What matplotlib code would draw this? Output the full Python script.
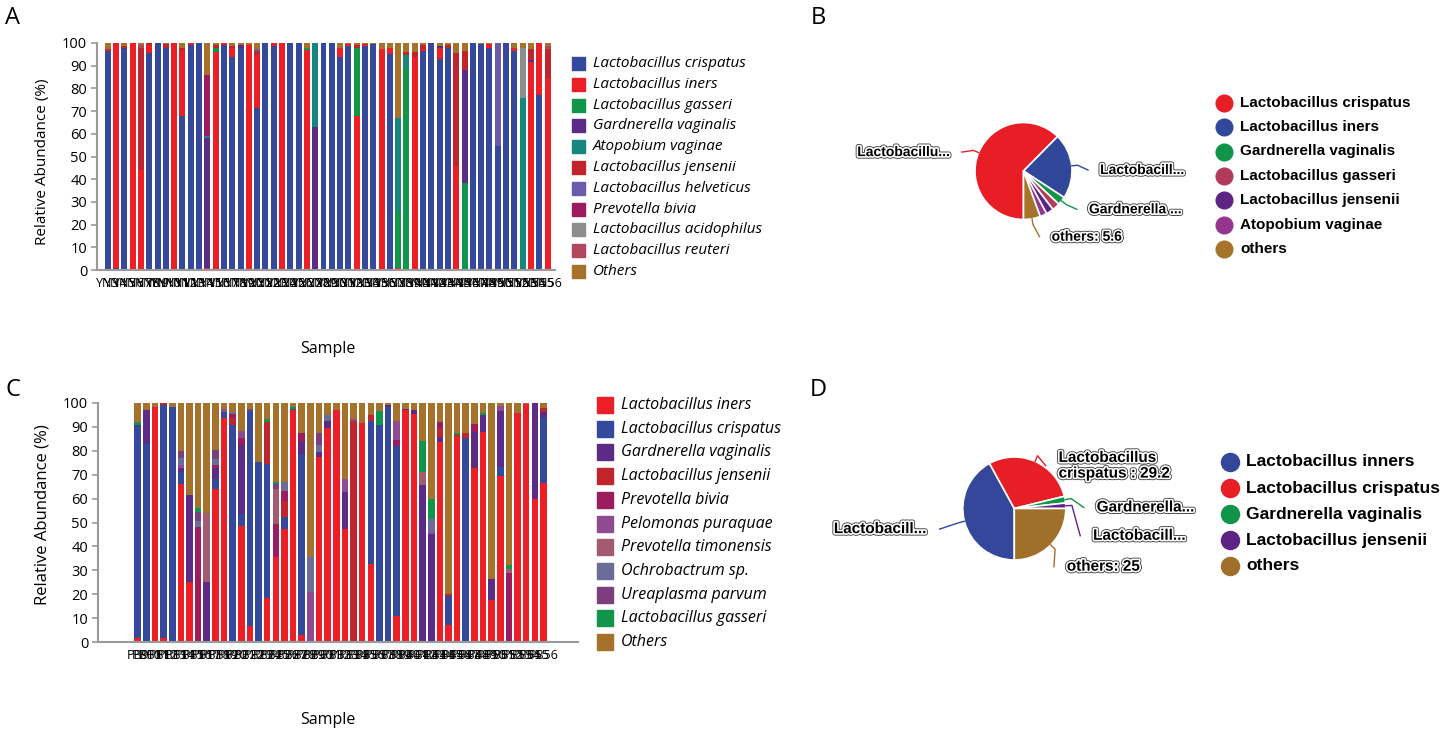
import numpy as np
import matplotlib
matplotlib.use("Agg")
import matplotlib.pyplot as plt
import matplotlib.patheffects as pe
from matplotlib.patches import Rectangle

W, H = 1450, 732

# ---------------- panel A: stacked relative abundance ----------------
species_a = ["Lactobacillus crispatus", "Lactobacillus iners", "Lactobacillus gasseri",
             "Gardnerella vaginalis", "Atopobium vaginae", "Lactobacillus jensenii",
             "Lactobacillus helveticus", "Prevotella bivia", "Lactobacillus acidophilus",
             "Lactobacillus reuteri", "Others"]
colors_a = ["#34499b", "#ed1f26", "#11954a", "#5b2b86", "#16877f", "#c0252d",
            "#6c5bab", "#9c1d5e", "#8d8d8d", "#b3475f", "#a6722b"]
samples_a = ["YN%d" % k for k in range(3, 57)]

cri_a = [96.5, 1, 97.5, 0.5, 0, 95.5, 100, 98, 0, 68,
         99, 100, 0, 0, 99, 94, 98, 0, 71.5, 100,
         98.5, 0, 100, 100, 0, 0, 100, 100, 94, 98.5,
         0, 98.5, 99.5, 0, 95, 0, 0, 0, 96.5, 99.5,
         93, 98, 0, 0, 100, 99.5, 98, 54.5, 100, 96.5,
         0, 0, 77, 0]
ine_a = [0.5, 99, 0, 99.5, 44, 3.5, 0, 0, 100, 28.5,
         1, 0, 1, 96, 1, 4, 0, 99, 23, 0,
         1.5, 100, 0, 0, 97, 0, 0, 0, 4, 1,
         68, 1, 0, 97.4, 3, 1, 0, 94, 1, 0,
         4.7, 0, 46, 0.5, 0, 0, 1.5, 0, 0, 1.5,
         0, 91.5, 23, 84.5]
gas_a = [0, 0, 0, 0, 0, 0, 0, 0, 0, 0,
         0, 0, 0, 2, 0, 0, 0, 0, 0, 0,
         0, 0, 0, 0, 1, 0, 0, 0, 0, 0,
         30, 0, 0, 0, 0, 25, 89.5, 0, 0, 0,
         0, 0, 0, 38, 0, 0, 0, 0, 0, 0,
         0, 0, 0, 0]
gar_a = [0, 0, 0.5, 0, 0, 0, 0, 0, 0, 0,
         0, 0, 57, 0, 0, 0, 1, 0, 0, 0,
         0, 0, 0, 0, 0, 63, 0, 0, 0, 0,
         0, 0, 0, 0, 0, 0, 0, 0, 0, 0.5,
         1, 0, 0, 49.6, 0, 0, 0, 0, 0, 0,
         0, 1, 0, 0]
ato_a = [0, 0, 0, 0, 0, 0, 0, 0, 0, 0,
         0, 0, 1, 0, 0, 0, 0, 0, 0, 0,
         0, 0, 0, 0, 0, 37, 0, 0, 0, 0,
         0, 0, 0, 0, 0, 41, 5, 0, 0, 0,
         0, 0, 0, 0, 0, 0, 0, 0, 0, 0,
         75.8, 0, 0, 0]
jen_a = [0.5, 0, 0.5, 0, 54, 1, 0, 1.5, 0, 1.5,
         0, 0, 0, 1, 0, 0.5, 0, 0, 2, 0,
         0, 0, 0, 0, 0, 0, 0, 0, 0, 0,
         1, 0, 0, 0, 0, 0, 1.5, 2, 1.5, 0,
         0, 1, 49.5, 8.5, 0, 0, 0, 0, 0, 0,
         0, 5, 0, 13]
hel_a = [0, 0, 0, 0, 0, 0, 0, 0, 0, 0,
         0, 0, 0, 0, 0, 0, 0, 0, 1, 0,
         0, 0, 0, 0, 0, 0, 0, 0, 0, 0,
         0, 0, 0, 0, 0, 0, 0, 0, 0, 0,
         0, 0, 0, 0, 0, 0, 0, 45.5, 0, 0,
         0, 0, 0, 0]
biv_a = [0, 0, 0, 0, 0, 0, 0, 0, 0, 0,
         0, 0, 27, 0, 0, 0, 0, 0, 0, 0,
         0, 0, 0, 0, 0, 0, 0, 0, 0, 0,
         0, 0, 0, 0, 0, 0, 0, 0, 0, 0,
         0, 0, 0, 0, 0, 0, 0, 0, 0, 0,
         0, 0, 0, 0]
aci_a = [0, 0, 0, 0, 0, 0, 0, 0, 0, 0,
         0, 0, 0, 0, 0, 0, 0, 0, 0, 0,
         0, 0, 0, 0, 0, 0, 0, 0, 0, 0,
         0, 0, 0, 0, 0, 0, 0, 0, 0, 0,
         0, 0, 0, 0, 0, 0, 0, 0, 0, 0,
         22, 0, 0, 0]
reu_a = [0, 0, 0, 0, 1, 0, 0, 0, 0, 0,
         0, 0, 0, 0, 0, 0, 0, 0, 0, 0,
         0, 0, 0, 0, 0, 0, 0, 0, 0, 0,
         0, 0, 0, 0, 0, 0, 0, 0, 0, 0,
         0, 0, 0, 0, 0, 0, 0, 0, 0, 0,
         0, 0, 0, 1]
oth_a = [2.5, 0, 1.5, 0, 1, 0, 0, 0.5, 0, 2,
         0, 0, 14, 1, 0, 1.5, 1, 1, 2.5, 0,
         0, 0, 0, 0, 2, 0, 0, 0, 2, 0.5,
         1, 0.5, 0.5, 2.6, 2, 33, 4, 4, 1, 0,
         1.3, 1, 4.5, 3.4, 0, 0.5, 0.5, 0, 0, 2,
         2.2, 2.5, 0, 1.5]

# ---------------- panel C: stacked relative abundance ----------------
species_c = ["Lactobacillus iners", "Lactobacillus crispatus", "Gardnerella vaginalis",
             "Lactobacillus jensenii", "Prevotella bivia", "Pelomonas puraquae",
             "Prevotella timonensis", "Ochrobactrum sp.", "Ureaplasma parvum",
             "Lactobacillus gasseri", "Others"]
colors_c = ["#ed1f26", "#34499b", "#5b2b86", "#c0252d", "#9c1d5e", "#8f4b92",
            "#a35b70", "#6b6d98", "#7c3f7d", "#11954a", "#a6722b"]
samples_c = ["PB%d" % k for k in range(9, 57)]

ine_c = [1.5, 0, 98.3, 1.5, 0, 66, 25, 0.5, 0, 64,
         93.7, 0, 48.7, 6.6, 0, 18.5, 35.5, 47.3, 96.9, 3,
         0, 77.5, 89.5, 97.2, 47.4, 0, 91.6, 32.6, 0.3, 0,
         10.8, 97, 95.6, 0, 0.5, 83.5, 7, 86, 0, 72.6,
         88, 17.4, 69.4, 0.5, 96, 99.7, 60, 66.6]
cri_c = [89, 83, 0, 97.5, 98.5, 5, 0, 0, 0, 4,
         2.4, 91, 5, 89.9, 75.4, 56, 0, 5, 0.5, 75.8,
         0.5, 0, 0, 0, 0, 0, 0, 59.7, 90.6, 98.5,
         71, 0, 0, 0, 0, 0, 12.2, 0, 85.5, 0,
         0, 0, 3.9, 0, 0, 0, 0, 27.5]
gar_c = [0.5, 14, 0, 0, 0, 2, 36.5, 0, 25, 5,
         0, 0, 28.8, 0, 0, 0, 0, 0, 0, 5,
         0, 2, 2.8, 0, 15.5, 0, 0, 0, 0, 0.5,
         0, 0.5, 1.4, 65.6, 44.5, 2.2, 0, 0, 0, 15.4,
         7, 8.8, 23.3, 0, 0, 0, 40, 2]
jen_c = [0, 0, 0, 1, 0, 0, 0, 0, 0, 0,
         0, 2.8, 0, 0, 0, 17.6, 0, 6.5, 0, 0,
         0, 0, 0, 0, 0, 92.5, 0, 2.8, 0, 0,
         0, 0, 0, 0, 0, 3.8, 1, 0.5, 2, 0,
         0, 0, 0, 0, 0, 0, 0, 1.8]
biv_c = [0, 0, 0, 0, 0, 0, 0, 47.5, 0, 1,
         0, 1.4, 2.8, 0, 0, 0, 14, 4.5, 0, 3.5,
         0, 0, 0, 0, 0, 0, 0, 0, 0, 0,
         2.8, 0, 0, 0, 0, 2.4, 0, 0, 0, 3.2,
         0, 0, 0, 28.5, 0, 0, 0, 0]
pel_c = [0, 0, 0, 0, 0, 1, 0, 0, 0, 0,
         1.4, 0, 2.8, 0, 0, 0, 0, 0, 0, 0,
         20.5, 0, 0, 0, 5.5, 1, 0, 0, 0, 0,
         7.7, 0, 0, 0, 1, 0, 0, 0, 0, 0,
         0, 0, 2, 0, 0, 0, 0, 0]
tim_c = [0, 0, 0, 0, 0, 0, 0, 0, 29, 0,
         0, 0, 0, 0, 0, 0, 14.5, 0, 0, 0,
         0, 0, 0, 0, 0, 0, 0, 0, 0, 0,
         0, 0, 0, 5.4, 0, 0, 0, 0, 0, 0,
         0, 0, 0, 1.5, 0, 0, 0, 0]
och_c = [0, 0, 0, 0, 0, 3, 0, 2.8, 0, 2.5,
         0, 1, 0, 0, 0, 0, 0, 3.7, 0, 0,
         14.5, 3, 2.8, 0, 0, 0, 0, 0, 0, 0,
         0, 0, 0, 0, 5.5, 0, 0, 0, 0, 0,
         0, 0, 0, 0, 0, 0, 0, 0]
ure_c = [0, 0, 0, 0, 0, 3, 0, 3.5, 0, 4,
         0, 0, 0, 1, 0, 0, 2, 0, 0, 0,
         0, 5, 0, 0, 0, 0, 0, 0, 0, 0,
         0, 0, 0, 0, 0, 0, 0, 0, 0, 0,
         0, 0, 0, 0, 0, 0, 0, 0]
gas_c = [1, 0, 0, 0, 0, 0, 0, 1.8, 0, 0,
         0, 0, 0, 0, 0, 1.4, 0.8, 0, 1, 0,
         0, 0, 0, 0, 0, 0, 0, 0, 5.6, 0,
         0, 0, 0, 13, 8.5, 0, 0, 1, 0, 0,
         0.7, 0, 0, 1.7, 0, 0, 0, 0]
oth_c = [8, 3, 1.7, 0, 1.5, 20, 38.5, 43.9, 46, 19.5,
         2.5, 3.8, 11.9, 2.5, 24.6, 6.5, 33.2, 33, 1.6, 12.7,
         64.5, 12.5, 4.9, 2.8, 31.6, 6.5, 8.4, 4.9, 3.5, 1,
         7.7, 2.5, 3, 16, 40, 8.1, 79.8, 12.5, 12.5, 8.8,
         4.3, 73.8, 1.4, 67.8, 4, 0.3, 0, 2.1]

# ---------------- panel B / D: mean composition pies ----------------
pie_b_names = ["Lactobacillus crispatus", "Lactobacillus iners", "Gardnerella vaginalis",
               "Lactobacillus gasseri", "Lactobacillus jensenii", "Atopobium vaginae", "others"]
pie_b_values = [62.4, 21.8, 2.8, 2.6, 2.5, 2.3, 5.6]
pie_b_colors = ["#e81e27", "#30479a", "#10944a", "#b23b5b", "#5d2486", "#94368f", "#a6732a"]
pie_b_labels = ["Lactobacillu...", "Lactobacill...", "Gardnerella ...", None, None, None, "others: 5.6"]

pie_d_names = ["Lactobacillus inners", "Lactobacillus crispatus", "Gardnerella vaginalis",
               "Lactobacillus jensenii", "others"]
pie_d_values = [42.0, 29.2, 2.1, 1.7, 25.0]
pie_d_colors = ["#34479a", "#e81e27", "#10944a", "#5d2486", "#a06f2a"]
pie_d_labels = ["Lactobacill...", "Lactobacillus\ncrispatus : 29.2", "Gardnerella...",
                "Lactobacill...", "others: 25"]

SANS = ["Open Sans", "DejaVu Sans"]
BOLD = ["Liberation Sans", "DejaVu Sans"]

fig = plt.figure(figsize=(W / 100, H / 100), dpi=100)

# overlay axes in pixel coordinates for legends and panel letters
over = fig.add_axes([0, 0, 1, 1], zorder=-1)
over.set_xlim(0, W)
over.set_ylim(H, 0)
over.axis("off")


def px_axes(x0, y0, x1, y1):
    return fig.add_axes([x0 / W, 1 - y1 / H, (x1 - x0) / W, (y1 - y0) / H])


def stacked_panel(box, series, colors, samples, xlim, width):
    ax = px_axes(*box)
    x = np.arange(len(samples))
    bottom = np.zeros(len(samples))
    for vals, c in zip(series, colors):
        vals = np.asarray(vals, dtype=float)
        ax.bar(x, vals, bottom=bottom, width=width, color=c, linewidth=0)
        bottom += vals
    ax.set_xlim(*xlim)
    ax.set_ylim(0, 100)
    ax.set_yticks(np.arange(0, 101, 10))
    ax.set_xticks(x)
    ax.set_xticklabels(samples, fontsize=9, family=SANS)
    for lab in ax.get_yticklabels():
        lab.set_family(SANS)
    ax.tick_params(axis="y", labelsize=10.5, length=4, width=1.2, color="#9a9a9a", pad=3)
    ax.tick_params(axis="x", length=0, pad=5)
    for s in ("top", "right"):
        ax.spines[s].set_visible(False)
    for s in ("left", "bottom"):
        ax.spines[s].set_color("#9a9a9a")
        ax.spines[s].set_linewidth(1.5)
    return ax


def square_legend(names, colors, x, y0, dy, size, fs):
    for i, (n, c) in enumerate(zip(names, colors)):
        y = y0 + i * dy
        over.add_patch(Rectangle((x, y - size / 2), size, size, color=c))
        over.text(x + size + 8, y, n, fontsize=fs, style="italic", va="center",
                  ha="left", family=SANS)


def circle_legend(names, colors, x, y0, dy, msize, fs):
    for i, (n, c) in enumerate(zip(names, colors)):
        y = y0 + i * dy
        over.plot([x], [y], "o", ms=msize, color=c, mec=c)
        over.text(x + 16, y, n, fontsize=fs, fontweight="bold", va="center",
                  ha="left", family=BOLD)


outline = [pe.Stroke(linewidth=3.6, foreground="#3a3a3a"),
           pe.Stroke(linewidth=2.4, foreground="white"), pe.Normal()]


def pie_panel(cx, cy, r, values, colors, labels, label_xy, fs):
    ax = px_axes(cx - 2.2 * r, cy - 1.6 * r, cx + 2.2 * r, cy + 1.6 * r)
    wedges, _ = ax.pie(values, colors=colors, startangle=-90, counterclock=False,
                       wedgeprops=dict(edgecolor="white", linewidth=1.2))
    ax.set_aspect("auto")
    ax.set_xlim(-2.2, 2.2)
    ax.set_ylim(-1.6, 1.6)
    for w, lab, (tx, ty) in zip(wedges, labels, label_xy):
        if lab is None:
            continue
        ang = np.deg2rad((w.theta1 + w.theta2) / 2)
        side = 1 if tx > 0 else -1
        ax.plot([np.cos(ang), np.cos(ang) * 1.12, tx - side * 0.25],
                [np.sin(ang), np.sin(ang) * 1.12, ty],
                color=w.get_facecolor(), lw=1, clip_on=False)
        ax.text(tx, ty, lab, ha="left" if side > 0 else "right", va="center",
                fontsize=fs, fontweight="bold", family=BOLD, path_effects=outline,
                linespacing=1.15, clip_on=False)
    return ax


# panel A
stacked_panel((97, 43, 555, 270),
              [cri_a, ine_a, gas_a, gar_a, ato_a, jen_a, hel_a, biv_a, aci_a, reu_a, oth_a],
              colors_a, samples_a, (-1.3, 53.9), 0.72)
over.text(43, 162, "Relative Abundance (%)", rotation=90, ha="center", va="center",
          fontsize=11, family=SANS)
over.text(328, 349, "Sample", ha="center", va="center", fontsize=11.5, family=SANS)
square_legend(species_a, colors_a, 572, 63.5, 20.8, 13, 11)

# panel C
stacked_panel((98, 403, 578, 642),
              [ine_c, cri_c, gar_c, jen_c, biv_c, pel_c, tim_c, och_c, ure_c, gas_c, oth_c],
              colors_c, samples_c, (-4.6, 51.0), 0.76)
over.text(43, 515, "Relative Abundance (%)", rotation=90, ha="center", va="center",
          fontsize=12, family=SANS)
over.text(328, 720, "Sample", ha="center", va="center", fontsize=11.5, family=SANS)
square_legend(species_c, colors_c, 597, 405, 23.7, 16, 11.5)

# panel B
pie_panel(1023.5, 171, 48.5, pie_b_values, pie_b_colors, pie_b_labels,
          [(-1.52, 0.39), (1.58, 0.02), (1.35, -0.79), (0, 0), (0, 0), (0, 0), (0.58, -1.355)],
          10)
circle_legend(pie_b_names, pie_b_colors, 1224, 102.7, 24.4, 12, 11)

# panel D
pie_panel(1014.3, 508.5, 51.5, pie_d_values, pie_d_colors, pie_d_labels,
          [(-1.70, -0.40), (0.86, 0.83), (1.60, 0.02), (1.53, -0.53), (1.02, -1.13)],
          11)
circle_legend(pie_d_names, pie_d_colors, 1230, 462, 26, 13, 12.5)

for letter, (lx, ly) in zip("ABCD", [(13, 18), (818, 18), (13, 390), (818, 390)]):
    over.text(lx, ly, letter, ha="center", va="center", fontsize=17, family=SANS)

fig.savefig("out.png", dpi=100)
